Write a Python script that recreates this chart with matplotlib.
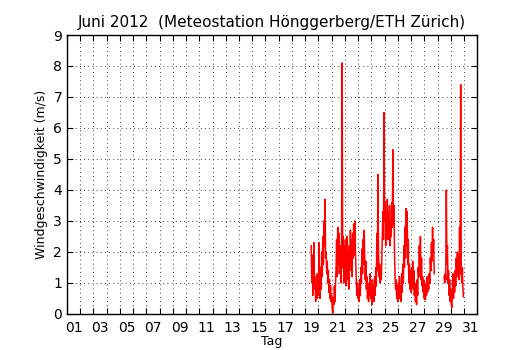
import numpy as np
import matplotlib
matplotlib.use("Agg")
import matplotlib.pyplot as plt

# Windgeschwindigkeit, Stundenwerte (m/s), Juni 2012; Start am 19.06. 11:00
start_tag = 18 + 11 / 24.0   # Tage seit 01.06. 00:00
nan = np.nan

juni19 = [2.2, 1.0, 1.9, 0.6, 1.4, 2.3, 0.8, 1.2, 0.4, 0.9, 0.5, 1.3, 0.7]
juni20 = [0.6, 2.3, 1.1, 0.5, 1.5, 0.8, 2.0, 1.2, 2.5, 1.6, 3.0, 2.2,
          3.7, 1.8, 2.0, 1.3, 1.7, 1.0, 1.4, 0.7, 1.1, 0.5, 0.9, 0.4]
juni21 = [0.6, 0.2, 0.03, 0.5, 0.3, 0.9, 0.4, 1.0, 1.5, 2.4, 1.2, 2.8,
          1.6, 2.6, 1.3, 2.2, 1.8, 1.0, 2.0, 8.1, 1.5, 2.5, 1.0, 2.2]
juni22 = [1.2, 2.4, 0.9, 1.8, 2.5, 1.1, 2.0, 0.8, 2.2, 1.4, 2.7, 1.6,
          2.4, 1.2, 2.6, 1.8, 2.9, 1.9, 3.0, 2.1, 1.5, 0.9, 0.6, 1.0]
juni23 = [0.5, 0.8, 0.4, 1.1, 0.6, 1.5, 1.0, 2.1, 1.3, 2.4, 1.6, 2.7,
          1.8, 1.1, 1.7, 0.8, 1.2, 0.5, 0.9, 0.4, 1.0, 0.6, 1.3, 0.5]
juni24 = [0.8, 0.3, 1.1, 0.5, 0.9, 0.4, 1.2, 0.6, 1.5, 0.9, 2.6, 1.4,
          4.5, 2.0, 1.2, 1.6, 1.0, 1.4, 1.1, 1.8, 2.5, 3.3, 2.4, 6.5]
juni25 = [3.0, 3.6, 2.2, 3.2, 2.5, 3.7, 2.4, 3.3, 2.6, 3.5, 2.2, 3.0,
          2.5, 3.6, 2.8, 5.3, 2.9, 3.5, 2.0, 1.2, 0.8, 1.1, 0.5, 0.9]
juni26 = [0.4, 1.0, 0.6, 1.2, 0.5, 0.9, 0.4, 1.3, 0.7, 1.6, 1.0, 2.2,
          1.5, 2.8, 1.8, 3.4, 2.2, 3.3, 1.6, 2.4, 1.0, 1.6, 0.8, 1.4]
juni27 = [0.7, 1.5, 0.9, 1.7, 0.8, 1.4, 0.6, 1.0, 0.4, 0.9, 0.3, 1.1,
          0.6, 1.5, 1.2, 2.2, 1.4, 2.5, 1.1, 1.8, 0.9, 1.2, 0.7, 1.1]
juni28 = [0.5, 1.0, 0.45, 0.9, 0.6, 1.2, 0.7, 1.0, 0.8, 1.3, 1.0, 1.8,
          1.4, 2.3, 1.7, 2.8, 2.0, 2.4, 1.3, nan, nan, nan, nan, nan]
juni29 = [nan, nan, nan, nan, nan, nan, nan, nan, nan, nan, nan, nan,
          1.2, 1.0, 1.3, 1.1, 4.0, 1.6, 2.2, 1.0, 1.4, 0.6, 1.1, 0.4]
juni30 = [0.8, 0.3, 0.2, 0.7, 1.3, 0.5, 1.1, 0.7, 1.4, 0.9, 1.8, 1.2,
          2.0, 1.4, 1.9, 1.1, 2.8, 1.3, 7.4, 1.5, 1.0, 1.5, 0.9, 0.55]

wind = np.array(juni19 + juni20 + juni21 + juni22 + juni23 + juni24 +
                juni25 + juni26 + juni27 + juni28 + juni29 + juni30)
zeit = start_tag + np.arange(len(wind)) / 24.0

tag_labels = ["%02d" % t for t in range(1, 32, 2)]

fig = plt.figure(figsize=(5.3, 3.5), dpi=100)
ax = fig.add_axes([0.1264, 0.103, 0.774, 0.797])
ax.plot(zeit, wind, color="red", linewidth=1.1)

ax.set_xlim(0, 31)
ax.set_ylim(0, 9)
ax.set_xticks(range(0, 32))
ax.set_xticklabels([])
ax.set_xticks(np.arange(0.5, 31, 2), minor=True)
ax.set_xticklabels(tag_labels, minor=True)
ax.set_yticks(range(0, 10))
ax.tick_params(which="major", direction="in", top=True, right=True, length=4, labelsize=10)
ax.tick_params(which="minor", length=0, labelsize=10, pad=5)
ax.grid(True, which="major", color="black", linestyle=(0, (1, 4)), linewidth=0.6)
for s in ax.spines.values():
    s.set_linewidth(1.0)

ax.set_title("Juni 2012  (Meteostation Hönggerberg/ETH Zürich)", fontsize=11)
ax.set_xlabel("Tag", fontsize=9, labelpad=0)
ax.set_ylabel("Windgeschwindigkeit (m/s)", fontsize=9)

fig.savefig("out.png", dpi=100)
